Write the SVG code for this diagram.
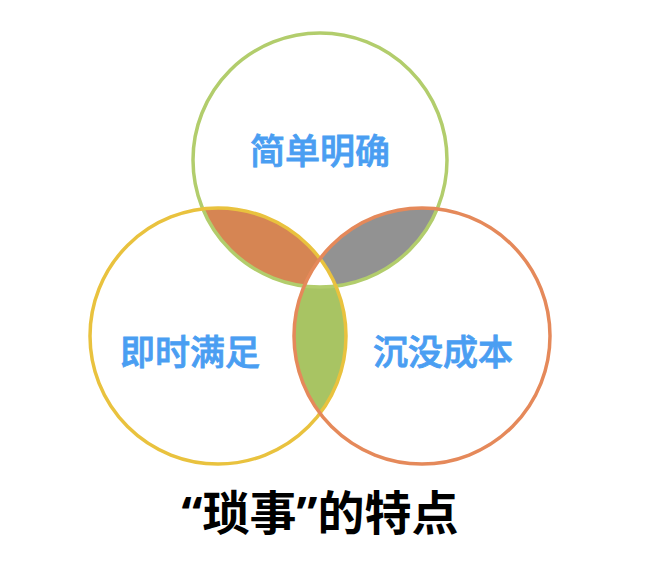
<svg xmlns="http://www.w3.org/2000/svg" width="652" height="582" viewBox="0 0 652 582">
<style>
.lbl{font-family:"Noto Sans CJK SC","Noto Sans",sans-serif;font-size:35px;font-weight:500;fill:#4a9ef2;stroke:#4a9ef2;stroke-width:0.8;text-anchor:middle}
.title{font-family:"Noto Sans CJK SC","Noto Sans",sans-serif;font-size:47px;font-weight:bold;fill:#000;text-anchor:middle}
.q{font-family:"Noto Sans","Liberation Sans",sans-serif}
.ring{fill:none;stroke-width:3.5}
</style>
<defs>
<clipPath id="cTop"><circle cx="320" cy="160" r="127"/></clipPath>
<clipPath id="cLeft"><circle cx="218" cy="336" r="128"/></clipPath>
<clipPath id="cRight"><circle cx="422" cy="336" r="128"/></clipPath>
</defs>
<rect width="652" height="582" fill="#fff"/>
<g id="overlaps">
<circle cx="218" cy="336" r="128" fill="#d68553" clip-path="url(#cTop)"/>
<circle cx="422" cy="336" r="128" fill="#929292" clip-path="url(#cTop)"/>
<circle cx="218" cy="336" r="128" fill="#a8c463" clip-path="url(#cRight)"/>
<g clip-path="url(#cTop)"><g clip-path="url(#cRight)"><circle cx="218" cy="336" r="128" fill="#fff"/></g></g>
</g>
<g id="top">
<circle class="ring" cx="320" cy="160" r="127" stroke="#b2cd6c"/>
<text class="lbl" x="320" y="164">简单明确</text>
</g>
<g id="left">
<circle class="ring" cx="218" cy="336" r="128" stroke="#e9c23e"/>
<text class="lbl" x="190" y="365">即时满足</text>
</g>
<g id="right">
<circle class="ring" cx="422" cy="336" r="128" stroke="#e5895a"/>
<text class="lbl" x="443" y="365">沉没成本</text>
</g>
<g id="titleg">
<text class="title" x="320" y="530"><tspan class="q">“</tspan>琐事<tspan class="q">”</tspan>的特点</text>
</g>
</svg>
